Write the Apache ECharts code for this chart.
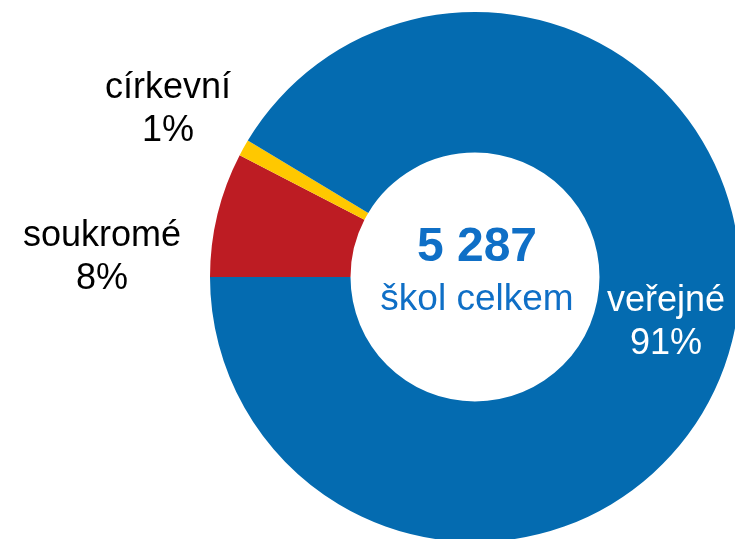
<!DOCTYPE html>
<html>
<head>
<meta charset="utf-8">
<script src="https://cdn.jsdelivr.net/npm/echarts@6/dist/echarts.min.js"></script>
<style>
  html, body { margin: 0; padding: 0; background: #fff; }
  #chart { width: 735px; height: 539px; }
</style>
</head>
<body>
<div id="chart"></div>
<script>
// school counts by founder type (order = clockwise from 9 o'clock)
const categories = ['soukromé', 'církevní', 'veřejné']
const schools = [402, 53, 4832]
const colors = ['#bd1c23', '#ffc800', '#046bb0']
const totalLabel = 'škol celkem'

// where each slice label sits (centre of the text block)
const labelPos = [[102, 258], [168, 110], [666, 323]]

const total = schools.reduce((a, b) => a + b, 0)
const totalText = String(total).replace(/\B(?=(\d{3})+(?!\d))/g, ' ')

const chart = echarts.init(document.getElementById('chart'))
const font = '"Liberation Sans", Arial, sans-serif'

const option = {
  animation: false,
  series: [
    {
      type: 'pie',
      center: [475, 277],
      radius: [124.5, 265],
      startAngle: 180,
      clockwise: true,
      percentPrecision: 0,
      avoidLabelOverlap: false,
      label: {
        show: true,
        position: 'outside',
        formatter: '{b}\n{d}%',
        fontFamily: font,
        fontSize: 36,
        lineHeight: 43,
        color: '#000',
        align: 'center'
      },
      labelLine: { show: false },
      labelLayout: function (params) {
        const p = labelPos[params.dataIndex]
        return { x: p[0], y: p[1], align: 'center', verticalAlign: 'middle' }
      },
      emphasis: { disabled: true },
      itemStyle: { borderWidth: 0 },
      data: categories.map((name, i) => ({
        name: name,
        value: schools[i],
        itemStyle: { color: colors[i] },
        label: i === 2 ? { color: '#fff' } : {}
      }))
    }
  ],
  graphic: [
    {
      type: 'text',
      x: 477,
      y: 248,
      style: {
        text: totalText,
        fontFamily: font,
        fontSize: 48,
        fontWeight: 'bold',
        fill: '#0f6fc6',
        align: 'center',
        verticalAlign: 'middle'
      }
    },
    {
      type: 'text',
      x: 477,
      y: 300,
      style: {
        text: totalLabel,
        fontFamily: font,
        fontSize: 37,
        fill: '#0f6fc6',
        align: 'center',
        verticalAlign: 'middle'
      }
    }
  ]
}
chart.setOption(option)
</script>
</body>
</html>
